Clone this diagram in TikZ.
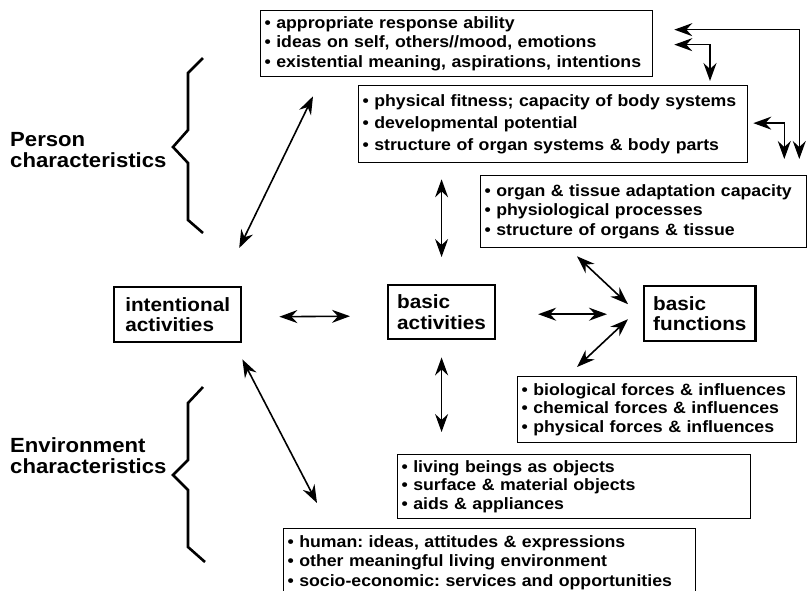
\documentclass[tikz,border=0pt]{standalone}
\usepackage{fontspec}
\setmainfont{Liberation Sans}[FakeStretch=1.08]
\usetikzlibrary{arrows.meta,calc}
\frenchspacing
\tikzset{tip/.tip={Stealth[length=18pt,width=13pt,inset=6pt]}}
\begin{document}
\begin{tikzpicture}[x=1pt,y=-1pt,
  listbox/.style={draw,line width=1.3pt,anchor=north west,align=left,inner xsep=4pt,inner ysep=0pt,text width=#1,font=\bfseries\fontsize{16.4}{19.5}\selectfont},
  actbox/.style={draw,line width=2.4pt,anchor=north west,align=left,inner xsep=11pt,inner ysep=0pt,font=\bfseries\fontsize{19.2}{20.5}\selectfont},
  link/.style={tip-tip,line width=1.6pt},
  brace/.style={line width=2.6pt},
  sidetext/.style={anchor=west,align=left,inner sep=0pt,font=\bfseries\fontsize{20.5}{21}\selectfont}]
\useasboundingbox (0,0) rectangle (807,590);

\node[listbox=384pt,minimum height=66pt] (ability) at (260,10) {• appropriate response ability\\• ideas on self, others//mood, emotions\\• existential meaning, aspirations, intentions};
\node[listbox=381pt,minimum height=77pt,font=\bfseries\fontsize{16.4}{22}\selectfont] (fitness) at (358,85) {• physical fitness; capacity of body systems\\• developmental potential\\• structure of organ systems \& body parts};
\node[listbox=318pt,minimum height=72pt] (organ) at (480,175) {• organ \& tissue adaptation capacity\\• physiological processes\\• structure of organs \& tissue};
\node[listbox=271pt,minimum height=66pt,font=\bfseries\fontsize{16.4}{18.5}\selectfont] (forces) at (517,376) {• biological forces \& influences\\• chemical forces \& influences\\• physical forces \& influences};
\node[listbox=345pt,minimum height=64pt,font=\bfseries\fontsize{16.4}{18.5}\selectfont] (objects) at (397,454) {• living beings as objects\\• surface \& material objects\\• aids \& appliances};
\node[listbox=404pt,minimum height=68pt] (social) at (283,528) {• human: ideas, attitudes \& expressions\\• other meaningful living environment\\• socio-economic: services and opportunities};

\node[actbox,minimum width=127pt,minimum height=55pt] (intent) at (113,286) {intentional\\activities};
\node[actbox,minimum width=106pt,minimum height=54pt,inner xsep=9pt] (basicact) at (387,284) {basic\\activities};
\node[actbox,minimum width=110pt,minimum height=55pt,inner xsep=9pt] (basicfn) at (643,285) {basic\\functions};

\node[sidetext] (person) at (10,150) {Person\\characteristics};
\node[sidetext] (environment) at (10,456) {Environment\\characteristics};

\draw[brace] (203,58) -- (188,73) -- (188,130) -- (173,147) -- (188,163) -- (188,220) -- (203,233);
\draw[brace] (203,387) -- (188,403) -- (188,460) -- (173,475) -- (188,490) -- (188,547) -- (205,562);

\draw[link] ($(intent.north)+(61.5,-38)$) -- ($(ability.south west)+(53,19)$);
\draw[link] ($(intent.south east)+(0,16)$) -- ($(social.north west)+(34,-25)$);
\draw[link] ($(intent.east)+(37,2)$) -- ($(basicact.west)+(-37,4)$);
\draw[link,shorten <=27pt,shorten >=16pt] (basicact.north) -- (basicact.north |- fitness.south);
\draw[link,shorten <=17pt,shorten >=22pt] (basicact.south) -- (basicact.south |- objects.north);
\draw[link] ($(basicact.east)+(42,2)$) -- ($(basicfn.west)+(-36,0.5)$);
\draw[link] ($(organ.south west)+(97,8)$) -- ($(basicfn.west)+(-15,-9.5)$);
\draw[link] ($(basicfn.west)+(-15,5.5)$) -- ($(forces.north west)+(60,-9)$);

\draw[link] ($(ability.east)+(21,-14)$) -| ($(organ.north east)+(-8,-16)$);
\draw[link] ($(ability.east)+(21,1)$) -| ($(fitness.north west)+(352,-4)$);
\draw[link] ($(fitness.east)+(5,-1)$) -| ($(organ.north east)+(-23,-16)$);
\end{tikzpicture}
\end{document}
